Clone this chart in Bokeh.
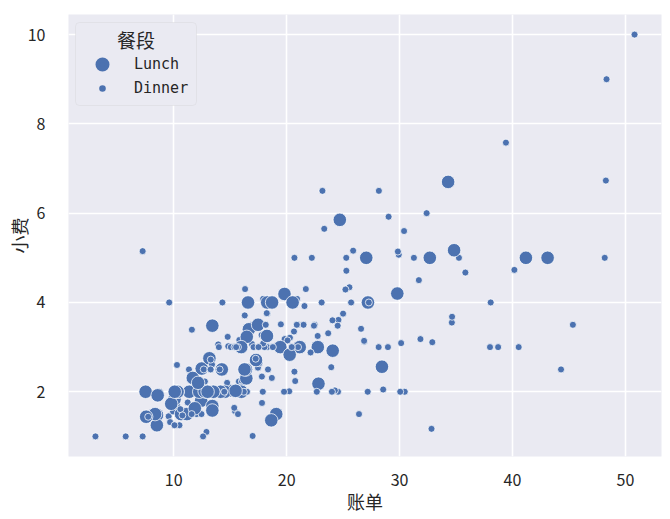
from bokeh.plotting import figure
from bokeh.models import (ColumnDataSource, Legend, LegendItem, FixedTicker, Range1d,
                          BoxAnnotation, Label)
from bokeh.embed import file_html
from bokeh.resources import INLINE

# ---- data (tips: total bill, tip, meal time) ----
total_bill = [
    16.99, 10.34, 21.01, 23.68, 24.59, 25.29, 8.77, 26.88, 15.04, 14.78,
    10.27, 35.26, 15.42, 18.43, 14.83, 21.58, 10.33, 16.29, 16.97, 20.65,
    17.92, 20.29, 15.77, 39.42, 19.82, 17.81, 13.37, 12.69, 21.70, 19.65,
    9.55, 18.35, 15.06, 20.69, 17.78, 24.06, 16.31, 16.93, 18.69, 31.27,
    16.04, 17.46, 13.94, 9.68, 30.40, 18.29, 22.23, 32.40, 28.55, 18.04,
    12.54, 10.29, 34.81, 9.94, 25.56, 19.49, 38.01, 26.41, 11.24, 48.27,
    20.29, 13.81, 11.02, 18.29, 17.59, 20.08, 16.45, 3.07, 20.23, 15.01,
    12.02, 17.07, 26.86, 25.28, 14.73, 10.51, 17.92, 27.20, 22.76, 17.29,
    19.44, 16.66, 10.07, 32.68, 15.98, 34.83, 13.03, 18.28, 24.71, 21.16,
    28.97, 22.49, 5.75, 16.32, 22.75, 40.17, 27.28, 12.03, 21.01, 12.46,
    11.35, 15.38, 44.30, 22.42, 20.92, 15.36, 20.49, 25.21, 18.24, 14.31,
    14.00, 7.25, 38.07, 23.95, 25.71, 17.31, 29.93, 10.65, 12.43, 24.08,
    11.69, 13.42, 14.26, 15.95, 12.48, 29.80, 8.52, 14.52, 11.38, 22.82,
    19.08, 20.27, 11.17, 12.26, 18.26, 8.51, 10.33, 14.15, 16.00, 13.16,
    17.47, 34.30, 41.19, 27.05, 16.43, 8.35, 18.64, 11.87, 9.78, 7.51,
    14.07, 13.13, 17.26, 24.55, 19.77, 29.85, 48.17, 25.00, 13.39, 16.49,
    21.50, 12.66, 16.21, 13.81, 17.51, 24.52, 20.76, 31.71, 10.59, 10.63,
    50.81, 15.81, 7.25, 31.85, 16.82, 32.90, 17.89, 14.48, 9.60, 34.63,
    34.65, 23.33, 45.35, 23.17, 40.55, 20.69, 20.90, 30.46, 18.15, 23.10,
    15.69, 19.81, 28.44, 15.48, 16.58, 7.56, 10.34, 43.11, 13.00, 13.51,
    18.71, 12.74, 13.00, 16.40, 20.53, 16.47, 26.59, 38.73, 24.27, 12.76,
    30.06, 25.89, 48.33, 13.27, 28.17, 12.90, 28.15, 11.59, 7.74, 30.14,
    12.16, 13.42, 8.58, 15.98, 13.42, 16.27, 10.09, 20.45, 13.28, 22.12,
    24.01, 15.69, 11.61, 10.77, 15.53, 10.07, 12.60, 32.83, 35.83, 29.03,
    27.18, 22.67, 17.82, 18.78,
]
tip = [
    1.01, 1.66, 3.50, 3.31, 3.61, 4.71, 2.00, 3.12, 1.96, 3.23,
    1.71, 5.00, 1.57, 3.00, 3.02, 3.92, 1.67, 3.71, 3.50, 3.35,
    4.08, 2.75, 2.23, 7.58, 3.18, 2.34, 2.00, 2.00, 4.30, 3.00,
    1.45, 2.50, 3.00, 2.45, 3.27, 3.60, 2.00, 3.07, 2.31, 5.00,
    2.24, 2.54, 3.06, 1.32, 5.60, 3.00, 5.00, 6.00, 2.05, 3.00,
    2.50, 2.60, 5.20, 1.56, 4.34, 3.51, 3.00, 1.50, 1.76, 6.73,
    3.21, 2.00, 1.98, 3.76, 2.64, 3.15, 2.47, 1.00, 2.01, 2.09,
    1.97, 3.00, 3.14, 5.00, 2.20, 1.25, 3.08, 4.00, 3.00, 2.71,
    3.00, 3.40, 1.83, 5.00, 2.03, 5.17, 2.00, 4.00, 5.85, 3.00,
    3.00, 3.50, 1.00, 4.30, 3.25, 4.73, 4.00, 1.50, 3.00, 1.50,
    2.50, 3.00, 2.50, 3.48, 4.08, 1.64, 4.06, 4.29, 3.76, 4.00,
    3.00, 1.00, 4.00, 2.55, 4.00, 3.50, 5.07, 1.50, 1.80, 2.92,
    2.31, 1.68, 2.50, 2.00, 2.52, 4.20, 1.48, 2.00, 2.00, 2.18,
    1.50, 2.83, 1.50, 2.00, 3.25, 1.25, 2.00, 2.00, 2.00, 2.75,
    3.50, 6.70, 5.00, 5.00, 2.30, 1.50, 1.36, 1.63, 1.73, 2.00,
    2.50, 2.00, 2.74, 2.00, 2.00, 5.14, 5.00, 3.75, 2.61, 2.00,
    3.50, 2.50, 2.00, 2.00, 3.00, 3.48, 2.24, 4.50, 1.61, 2.00,
    10.00, 3.16, 5.15, 3.18, 4.00, 3.11, 2.00, 2.00, 4.00, 3.55,
    3.68, 5.65, 3.50, 6.50, 3.00, 5.00, 3.50, 2.00, 3.50, 4.00,
    1.50, 4.19, 2.56, 2.02, 4.00, 1.44, 2.00, 5.00, 2.00, 2.00,
    4.00, 2.01, 2.00, 2.50, 4.00, 3.23, 3.41, 3.00, 2.03, 2.23,
    2.00, 5.16, 9.00, 2.50, 6.50, 1.10, 3.00, 1.50, 1.44, 3.09,
    2.20, 3.48, 1.92, 3.00, 1.58, 2.50, 2.00, 3.00, 2.72, 2.88,
    2.00, 3.00, 3.39, 1.47, 3.00, 1.25, 1.00, 1.17, 4.67, 5.92,
    2.00, 2.00, 1.75, 3.00,
]
D, L = "Dinner", "Lunch"
meal_time = [
    D, D, D, D, D, D, D, D, D, D,
    D, D, D, D, D, D, D, D, D, D,
    D, D, D, D, D, D, D, D, D, D,
    D, D, D, D, D, D, D, D, D, D,
    D, D, D, D, D, D, D, D, D, D,
    D, D, D, D, D, D, D, D, D, D,
    D, D, D, D, D, D, D, D, D, D,
    D, D, D, D, D, D, D, L, L, L,
    L, L, L, L, L, L, L, L, L, L,
    D, D, D, D, D, D, D, D, D, D,
    D, D, D, D, D, D, D, D, D, D,
    D, D, D, D, D, D, D, L, L, L,
    L, L, L, L, L, L, L, L, L, L,
    L, L, L, L, L, L, L, L, L, L,
    L, L, L, L, L, L, L, L, L, L,
    D, D, D, D, D, D, D, D, D, D,
    D, D, D, D, D, D, D, D, D, D,
    D, D, D, D, D, D, D, D, D, D,
    D, D, D, D, D, D, D, D, D, D,
    D, L, L, L, L, L, L, L, L, L,
    L, L, L, L, L, L, D, D, D, D,
    D, D, D, D, D, D, D, D, D, D,
    L, L, L, L, L, L, L, D, D, D,
    D, D, D, D, D, D, D, D, D, D,
    D, D, D, D,
]
meal_labels = ["Lunch", "Dinner"]
legend_title = "餐段"
x_label, y_label = "账单", "小费"
x_ticks = [10, 20, 30, 40, 50]
y_ticks = [2, 4, 6, 8, 10]

# ---- style ----
BG = "#EAEAF2"
BLUE = "#4C72B0"
TXT = "#262626"
CJK = "Noto Sans CJK SC"
size_map = {"Lunch": 13.5, "Dinner": 7.0}
NAN = float("nan")

src = ColumnDataSource(dict(x=total_bill, y=tip, time=meal_time,
                            size=[size_map[t] for t in meal_time]))

xmin, xmax = min(total_bill), max(total_bill)
ymin, ymax = min(tip), max(tip)
xpad, ypad = (xmax - xmin) * 0.05, (ymax - ymin) * 0.05

FW, FH = 593, 442  # frame size in px
p = figure(width=662, height=519, output_backend="svg", toolbar_location=None,
           x_range=Range1d(xmin - xpad, xmax + xpad),
           y_range=Range1d(ymin - ypad, ymax + ypad),
           min_border_left=68, min_border_right=1, min_border_top=14, min_border_bottom=63)
p.background_fill_color = BG
p.border_fill_color = "white"
p.outline_line_color = None

p.scatter("x", "y", size="size", source=src, fill_color=BLUE,
          line_color="white", line_width=0.75)

# legend proxies (no visible data, only used to draw the legend symbols)
r_lunch = p.scatter(x=[NAN], y=[NAN], size=10, fill_color=BLUE, line_color=BLUE, line_width=4.4)
r_dinner = p.scatter(x=[NAN], y=[NAN], size=10, fill_color=BLUE, line_color=BG, line_width=3.0)

# legend frame (screen units, relative to the plot frame)
box = BoxAnnotation(left=7, right=128, top=FH - 8, bottom=FH - 91,
                    left_units="screen", right_units="screen",
                    top_units="screen", bottom_units="screen",
                    fill_color=BG, fill_alpha=1.0, line_color="#CCCCCC", line_width=1,
                    border_radius=4, level="annotation")
p.add_layout(box)

title = Label(x=67.5, y=FH - 24.5, x_units="screen", y_units="screen", text=legend_title,
              text_align="center", text_baseline="middle", text_font=CJK,
              text_font_size="19px", text_color=TXT)
p.add_layout(title)

legend = Legend(
    items=[LegendItem(label=meal_labels[0], renderers=[r_lunch]),
           LegendItem(label=meal_labels[1], renderers=[r_dinner])],
    location=(12, FH - 86), padding=0, spacing=0, margin=0,
    glyph_width=44, glyph_height=24, label_height=24, label_standoff=10,
    label_text_font="DejaVu Sans Mono", label_text_font_size="15px", label_text_color=TXT,
    border_line_alpha=0, background_fill_alpha=0,
)
p.add_layout(legend)

for ax in (p.xaxis, p.yaxis):
    ax.axis_line_color = None
    ax.major_tick_line_color = None
    ax.minor_tick_line_color = None
    ax.major_label_text_font = CJK
    ax.major_label_text_font_size = "16px"
    ax.major_label_text_color = TXT
    ax.axis_label_text_font = CJK
    ax.axis_label_text_font_size = "18px"
    ax.axis_label_text_font_style = "normal"
    ax.axis_label_text_color = TXT

p.xaxis.axis_label = x_label
p.yaxis.axis_label = y_label
p.xaxis.ticker = FixedTicker(ticks=x_ticks)
p.yaxis.ticker = FixedTicker(ticks=y_ticks)
p.xaxis.major_label_standoff = 11
p.yaxis.major_label_standoff = 17
p.xaxis.axis_label_standoff = -1
p.yaxis.axis_label_standoff = -7

p.xgrid.ticker = FixedTicker(ticks=x_ticks)
p.ygrid.ticker = FixedTicker(ticks=y_ticks)
for g in (p.xgrid, p.ygrid):
    g.grid_line_color = "white"
    g.grid_line_width = 1.6
    g.minor_grid_line_color = None

open("out.html", "w").write(file_html(p, INLINE))
